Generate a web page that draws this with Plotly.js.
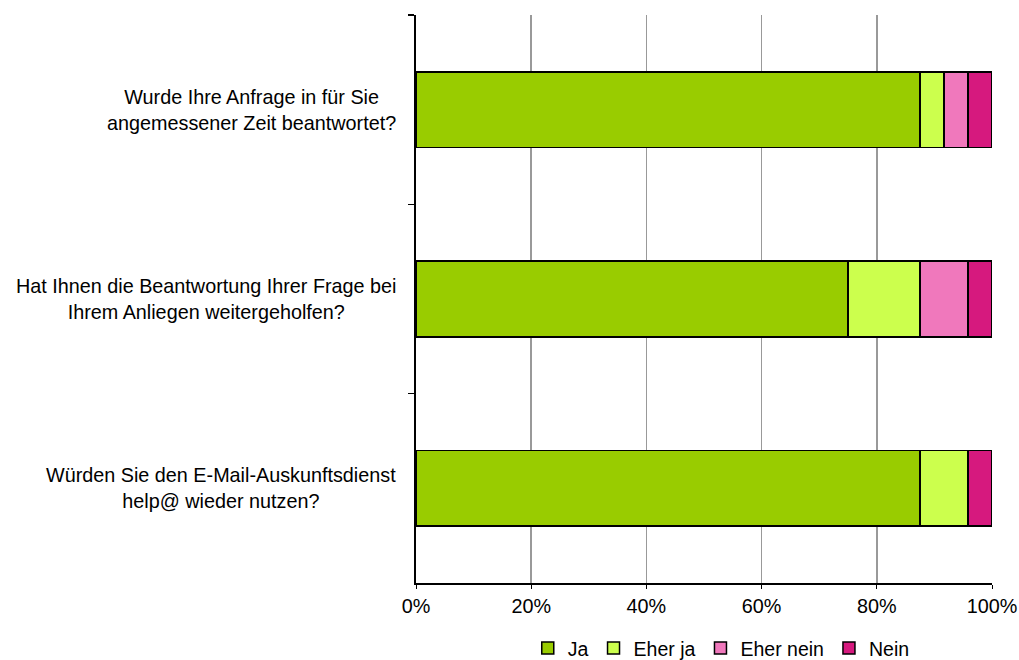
<!DOCTYPE html>
<html>
<head>
<meta charset="utf-8">
<script src="https://cdn.plot.ly/plotly-3.0.1.min.js"></script>
<style>
  html, body { margin: 0; padding: 0; background: #fff; }
  #chart { width: 1019px; height: 660px; }
</style>
</head>
<body>
<div id="chart"></div>
<script>
// Survey questions (top to bottom)
const questions = [
  "Wurde Ihre Anfrage in für Sie<br>angemessener Zeit beantwortet?",
  "Hat Ihnen die Beantwortung Ihrer Frage bei<br>Ihrem Anliegen weitergeholfen?",
  "Würden Sie den E-Mail-Auskunftsdienst<br>help@ wieder nutzen?"
];

// Share of answers per question, in percent
const ja       = [87.5, 75.0, 87.5];
const eherJa   = [4.17, 12.5, 8.33];
const eherNein = [4.17, 8.33, 0];
const nein     = [4.16, 4.17, 4.17];

const seriesNames  = ["Ja", "Eher ja", "Eher nein", "Nein"];
const seriesValues = [ja, eherJa, eherNein, nein];
const seriesColors = ["#99CC00", "#CCFF4D", "#F078BC", "#D6197E"];

const xTicks = [0, 20, 40, 60, 80, 100];

const FONT = '"Liberation Sans", Arial, sans-serif';

const traces = seriesNames.map((name, i) => ({
  type: "bar",
  orientation: "h",
  name: name,
  x: seriesValues[i],
  y: questions,
  width: 0.4,
  marker: { color: seriesColors[i], line: { color: "#000", width: 1.5 } },
  hoverinfo: "x+name"
}));

// Question labels: right-aligned block, lines centred inside it
const labelAnnotations = questions.map(q => ({
  text: q,
  xref: "paper",
  x: 0,
  xanchor: "right",
  xshift: -18,
  yref: "y",
  y: q,
  yanchor: "middle",
  align: "center",
  showarrow: false,
  font: { family: FONT, size: 19.8, color: "#000" }
}));

const layout = {
  width: 1019,
  height: 660,
  margin: { l: 416, r: 27, t: 15, b: 77, autoexpand: false },
  paper_bgcolor: "#fff",
  plot_bgcolor: "#fff",
  barmode: "stack",
  showlegend: true,
  font: { family: FONT, size: 19.8, color: "#000" },
  xaxis: {
    range: [0, 100],
    tickvals: xTicks,
    ticktext: xTicks.map(v => v + "%"),
    showgrid: true,
    gridcolor: "#999",
    gridwidth: 1.5,
    zeroline: false,
    showline: true,
    linecolor: "#000",
    linewidth: 2,
    ticks: "outside",
    ticklen: 4,
    tickcolor: "#000",
    tickfont: { family: FONT, size: 19.8, color: "#000" },
    fixedrange: true
  },
  yaxis: {
    type: "category",
    autorange: "reversed",
    showticklabels: false,
    showgrid: false,
    zeroline: false,
    showline: true,
    linecolor: "#000",
    linewidth: 2,
    ticks: "outside",
    tickson: "boundaries",
    ticklen: 6,
    tickcolor: "#000",
    tickwidth: 1.5,
    fixedrange: true
  },
  legend: {
    orientation: "h",
    xref: "paper",
    x: 0.53,
    xanchor: "center",
    yref: "paper",
    y: -0.115,
    yanchor: "middle",
    font: { family: FONT, size: 19.5, color: "#000" },
    traceorder: "normal",
    itemwidth: 30,
    bgcolor: "rgba(0,0,0,0)"
  },
  annotations: labelAnnotations
};

Plotly.newPlot("chart", traces, layout, { displayModeBar: false, staticPlot: true });
</script>
</body>
</html>
